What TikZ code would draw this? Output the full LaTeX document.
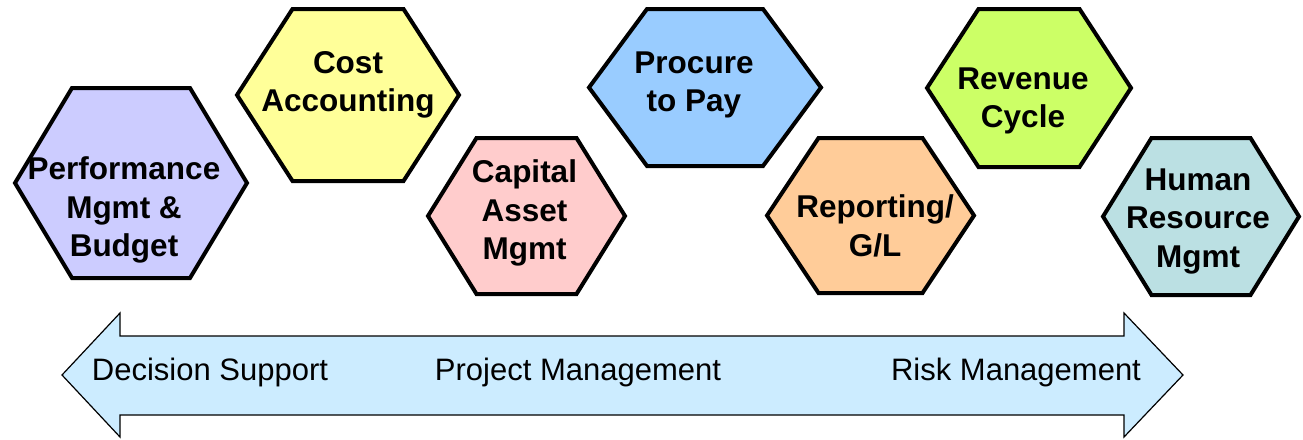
\documentclass[tikz,border=0pt]{standalone}
\usepackage{fontspec}
\setmainfont{Liberation Sans}
\usepackage{xcolor}
\usetikzlibrary{calc}

\definecolor{perfblue}{HTML}{CCCCFF}
\definecolor{costyellow}{HTML}{FFFF99}
\definecolor{assetpink}{HTML}{FFCCCC}
\definecolor{procureblue}{HTML}{99CCFF}
\definecolor{reportorange}{HTML}{FFCC99}
\definecolor{revenuegreen}{HTML}{CCFF66}
\definecolor{humanteal}{HTML}{BBE0E3}
\definecolor{arrowblue}{HTML}{CCECFF}

\tikzset{
  hexline/.style={draw=black, line width=4pt, line join=miter},
  hextext/.style={font={\bfseries\fontsize{31.5}{38.5}\selectfont}, align=center, inner sep=0pt},
  bandtext/.style={font={\fontsize{31}{36}\selectfont}, anchor=base, inner sep=0pt},
  pics/hexagon/.style args={#1/#2/#3/#4}{code={
    \filldraw[hexline, fill=#4] (-#1,0) -- (-#3,#2) -- (#3,#2) -- (#1,0) -- (#3,-#2) -- (-#3,-#2) -- cycle;
  }}
}

\begin{document}
\begin{tikzpicture}[x=1pt, y=-1pt]
\useasboundingbox (0,0) rectangle (1303,439);

\coordinate (perf) at (131,183);
\coordinate (cost) at (348,95);
\coordinate (asset) at (526.5,216);
\coordinate (procure) at (705,87.5);
\coordinate (report) at (870.5,215.5);
\coordinate (revenue) at (1029,88);
\coordinate (human) at (1201,216.5);

\pic at (perf) {hexagon=116/95/59/perfblue};
\pic at (cost) {hexagon=111/86/55.5/costyellow};
\pic at (asset) {hexagon=98.5/78/50/assetpink};
\pic at (procure) {hexagon=116/78.5/58/procureblue};
\pic at (report) {hexagon=103.5/77.5/52/reportorange};
\pic at (revenue) {hexagon=102/79/50.5/revenuegreen};
\pic at (human) {hexagon=98/78.5/49.5/humanteal};

\node[hextext] (perftext) at ($(perf)+(-7,27)$) {Performance\\Mgmt \&\\Budget};
\node[hextext] (costtext) at ($(cost)+(0,-10)$) {Cost\\Accounting};
\node[hextext] (assettext) at ($(asset)+(-2,-3)$) {Capital\\Asset\\Mgmt};
\node[hextext] (procuretext) at ($(procure)+(-11,-2.5)$) {Procure\\to Pay};
\node[hextext] (reporttext) at ($(report)+(4.5,10.5)$) {Reporting/\\G/L};
\node[hextext] (revenuetext) at ($(revenue)+(-6,13)$) {Revenue\\Cycle};
\node[hextext] (humantext) at ($(human)+(-3,4.5)$) {Human\\Resource\\Mgmt};

% double arrow along the bottom
\coordinate (ltip) at (62,375);
\coordinate (rtip) at (1183,375);
\draw[line width=1.2pt, fill=arrowblue, line join=miter] (ltip) -- (120,313) -- (120,336) -- (1124,336) -- (1124,313) -- (rtip)
  -- (1124,437) -- (1124,415) -- (120,415) -- (120,437) -- cycle;

\node[bandtext] (decision) at (210,380) {Decision Support};
\node[bandtext] (project) at (578,380) {Project Management};
\node[bandtext] (risk) at (1016,380) {Risk Management};
\end{tikzpicture}
\end{document}
